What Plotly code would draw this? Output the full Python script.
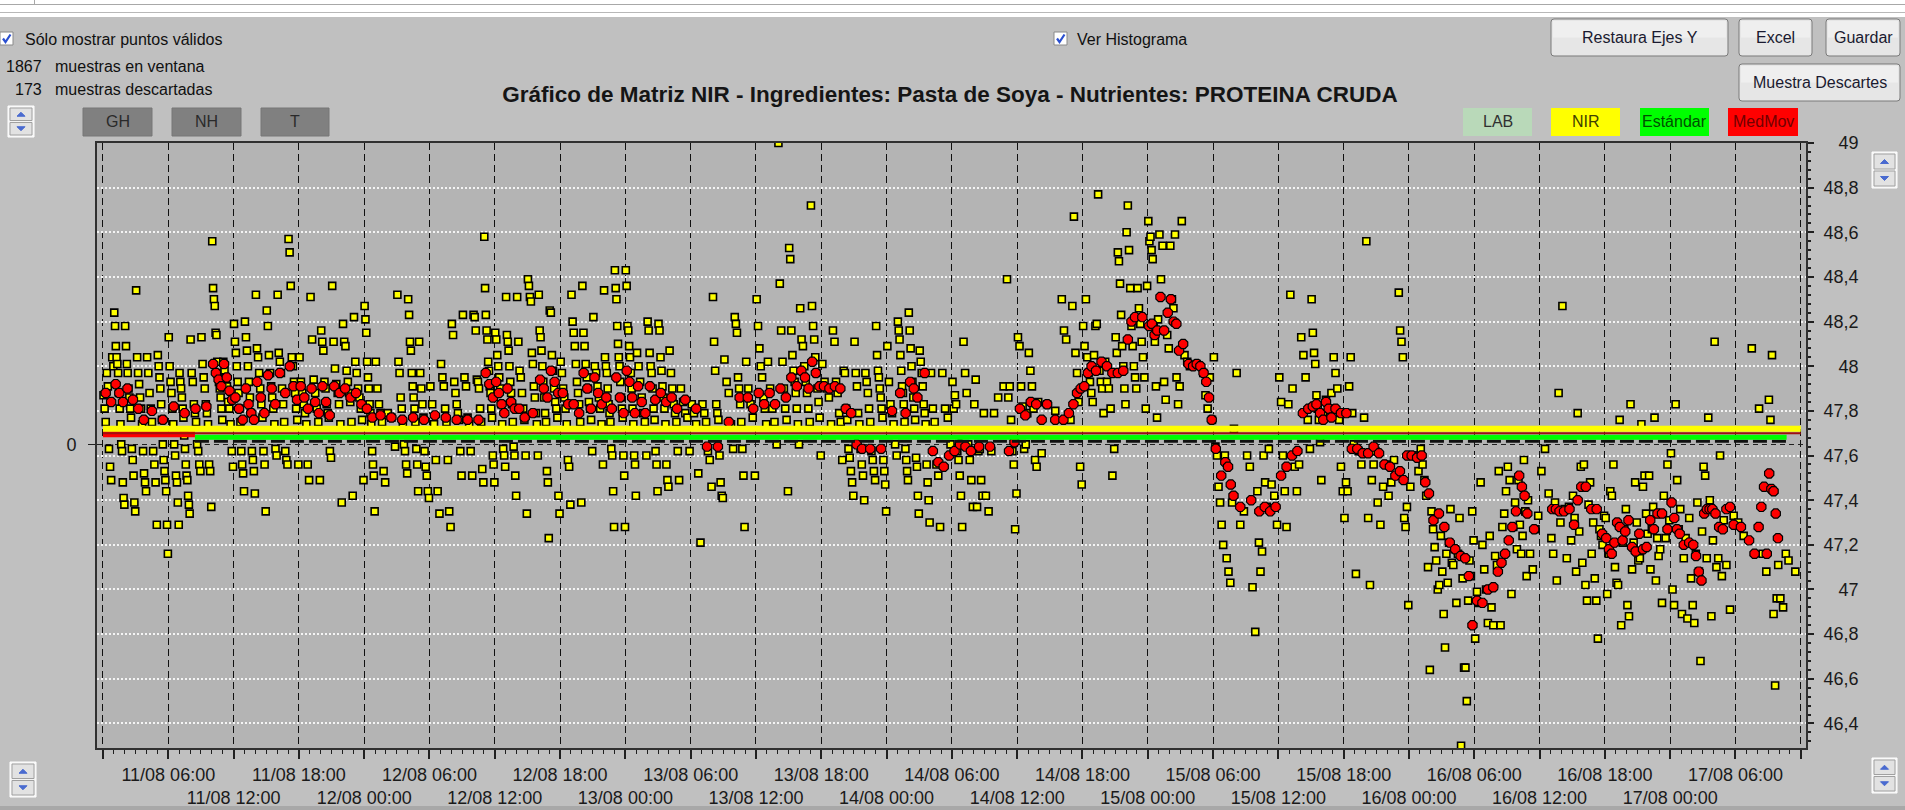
import plotly.graph_objects as go
from datetime import datetime, timedelta

BASE = datetime(2023, 8, 11, 0, 0)

# NIR readings, grouped by hour since 11/08 00:00 (samples spread evenly inside each hour)
nir_by_hour = [
    [47.87,47.81,47.75,47.97,47.91,47.63,47.55,47.49,48.04,48.00],
    [48.24,48.18,48.09,48.04,48.01,47.97,47.88,47.81,47.74,47.65,47.62,47.48,47.41,47.38],
    [48.18,48.09,48.01,47.97,47.90,47.86,47.81,47.77,47.63,47.58,47.51,47.39,47.35],
    [48.34,48.04,47.97,47.92,47.86,47.81,47.74,47.62,47.52,47.48,47.44],
    [48.04,47.97,47.88,47.81,47.75,47.62,47.56,47.48,47.29],
    [48.05,48.00,47.95,47.90,47.83,47.76,47.65,47.58,47.53,47.49,47.44,47.29,47.16],
    [48.13,48.00,47.93,47.88,47.81,47.74,47.65,47.60,47.51,47.48,47.39,47.29],
    [47.97,47.93,47.90,47.86,47.81,47.77,47.69,47.63,47.56,47.51,47.49,47.42,47.38,47.34],
    [48.12,47.97,47.93,47.83,47.79,47.75,47.65,47.62,47.56,47.53],
    [48.13,48.01,47.95,47.90,47.83,47.79,47.74,47.56,47.53,47.37],
    [48.56,48.35,48.30,48.27,48.15,48.14,48.02,47.97,47.93,47.90,47.86,47.81,47.76],
    [48.02,47.98,47.95,47.91,47.84,47.81,47.74,47.62,47.55],
    [48.19,48.11,48.06,48.00,47.93,47.88,47.81,47.75,47.62,47.56,47.52,47.44],
    [48.20,48.13,48.07,48.00,47.93,47.86,47.79,47.62,47.58,47.53,47.43],
    [48.32,48.08,48.04,47.97,47.90,47.83,47.77,47.62,47.56,47.35],
    [48.25,48.18,48.05,47.97,47.91,47.86,47.81,47.74,47.63,47.60],
    [48.32,48.06,48.02,47.97,47.90,47.83,47.75,47.62,47.58,47.56],
    [48.57,48.51,48.36,48.04,48.00,47.93,47.88,47.81,47.76,47.56],
    [48.04,47.93,47.88,47.83,47.79,47.74,47.56,47.49],
    [48.31,48.12,47.94,47.88,47.81,47.75,47.49],
    [48.16,48.11,48.07,47.93,47.90,47.83,47.79,47.77,47.62,47.59],
    [48.36,48.11,47.99,47.92,47.88,47.83,47.74,47.39],
    [48.19,48.11,48.09,47.98,47.93,47.88,47.84,47.75,47.42],
    [48.22,48.02,47.97,47.90,47.86,47.81,47.76,47.49],
    [48.27,48.21,48.15,48.02,47.95,47.90,47.83,47.79,47.74,47.62,47.56,47.51,47.35],
    [48.02,47.90,47.83,47.79,47.75,47.53,47.48],
    [47.79,47.77,47.64],
    [48.32,48.02,47.97,47.86,47.81,47.74,47.65,47.62,47.56,47.52],
    [48.30,48.23,48.11,48.07,47.97,47.91,47.86,47.81,47.75,47.63,47.56,47.44],
    [48.11,47.97,47.90,47.83,47.77,47.62,47.55,47.51,47.44,47.41],
    [47.91,47.83,47.74,47.58,47.44,47.34],
    [48.01,47.95,47.91,47.81,47.75,47.58,47.35,47.28],
    [48.19,48.14,47.93,47.88,47.83,47.79,47.76,47.62,47.51],
    [48.23,47.95,47.91,47.77,47.74,47.62,47.51],
    [48.23,48.22,48.16,47.94,47.93,47.90,47.81,47.75,47.54,47.48],
    [48.58,48.35,48.23,48.16,48.12,48.02,47.98,47.91,47.88,47.81,47.77,47.60,47.56,47.48],
    [48.15,48.12,48.05,48.00,47.95,47.90,47.83,47.74,47.63,47.60,47.55],
    [48.31,48.14,48.11,48.07,48.00,47.93,47.88,47.83,47.75,47.64,47.60,47.51,47.42],
    [48.31,48.11,47.98,47.95,47.88,47.81,47.76,47.60,47.34],
    [48.39,48.36,48.31,48.29,48.06,48.01,47.91,47.86,47.79,47.74,47.60],
    [48.32,48.16,48.13,48.07,48.00,47.93,47.86,47.79,47.75,47.53,47.48,47.23],
    [48.25,48.24,48.05,47.98,47.90,47.84,47.81,47.77,47.42,47.34],
    [48.02,47.97,47.90,47.86,47.81,47.74,47.58,47.55,47.38],
    [48.32,48.20,48.15,48.09,48.01,47.93,47.88,47.83,47.75,47.39],
    [48.36,48.15,48.09,48.01,47.95,47.90,47.84,47.81,47.76,47.62],
    [48.22,48.00,47.97,47.91,47.86,47.81,47.74,47.56],
    [48.34,48.04,48.00,47.97,47.90,47.83,47.79,47.75,47.63,47.60,47.44,47.28],
    [48.43,48.35,48.30,48.18,48.10,48.04,48.00,47.93,47.86,47.81,47.77,47.60,47.51,47.28],
    [48.43,48.36,48.18,48.16,48.09,48.04,47.97,47.90,47.81,47.74,47.60,47.56,47.42],
    [48.06,48.00,47.93,47.86,47.79,47.75,47.60],
    [48.20,48.16,48.06,48.00,47.97,47.90,47.81,47.76,47.62,47.56,47.44],
    [48.19,48.16,48.04,47.98,47.91,47.86,47.81,47.74,47.56,47.49,47.46],
    [48.07,47.97,47.90,47.83,47.79,47.75,47.62,47.49],
    [47.90,47.84,47.79,47.77,47.62],
    [47.83,47.79,47.74,47.52,47.21],
    [47.83,47.79,47.75,47.62,47.58,47.46],
    [48.31,48.11,47.98,47.83,47.79,47.76,47.60,47.48,47.42,47.41],
    [48.03,47.93,47.88,47.74,47.63],
    [48.22,48.19,48.15,47.95,47.90,47.83,47.75,47.63,47.51,47.28],
    [48.02,47.90,47.83,47.77,47.51],
    [48.30,48.18,48.08,48.00,47.95,47.86,47.81,47.74],
    [48.02,47.90,47.81,47.75,47.65],
    [49.00,48.37,48.16,48.02,47.90,47.81,47.76,47.44],
    [48.53,48.48,48.16,48.05,47.98,47.93,47.88,47.81,47.74,47.65],
    [48.26,48.12,48.09,48.00,47.93,47.88,47.81,47.75],
    [48.72,48.27,48.18,48.12,48.04,47.97,47.90,47.84,47.77,47.60],
    [48.01,47.93,47.90,47.86,47.74],
    [48.16,48.11,47.93,47.88,47.79,47.75,47.58],
    [47.98,47.97,47.81,47.76,47.63,47.59,47.53,47.48,47.42],
    [48.11,47.97,47.91,47.79,47.74,47.63,47.56,47.51,47.40],
    [47.97,47.93,47.88,47.81,47.75,47.62,47.58,47.53,47.49],
    [48.18,48.05,47.98,47.95,47.90,47.86,47.81,47.77,47.58,47.53,47.47,47.35],
    [48.09,47.93,47.83,47.79,47.74,47.65,47.60],
    [48.20,48.16,48.12,48.05,47.98,47.91,47.88,47.83,47.75,47.63,47.58,47.53,47.49],
    [48.24,48.16,48.08,48.00,47.93,47.86,47.81,47.76,47.59,47.55,47.42,47.34],
    [48.07,48.02,47.97,47.91,47.83,47.79,47.74,47.56,47.48,47.40,47.30],
    [47.97,47.81,47.75,47.56,47.51,47.28],
    [47.97,47.81,47.77,47.65],
    [47.93,47.81,47.87,47.83,47.62,47.58,47.51,47.42,47.28],
    [48.11,47.97,47.88,47.65,47.58,47.49,47.37],
    [47.83,47.94,47.37,47.62,47.63,47.49,47.42,47.79],
    [47.42,47.35,47.62,47.79],
    [47.86,47.91],
    [48.39,47.86,47.91,47.76,47.62,47.56,47.27,47.43],
    [48.13,48.09,47.91,47.82,47.63,47.65,47.79],
    [48.06,47.98,47.91,47.81,47.58,47.55,47.84],
    [47.61,47.83],
    [47.80],
    [48.30,48.16,48.12,47.78,47.76],
    [48.27,48.67,48.06,47.97,47.84,47.55,47.47],
    [48.18,48.09,48.30,48.04,47.97,47.93,47.88,47.84],
    [48.05,48.18,48.19,48.77,47.98,47.93,47.90,47.79],
    [48.02,47.93,47.90,47.81,47.51,47.63],
    [48.13,48.06,48.51,48.47,48.37,48.23,48.09,48.00,47.90,47.83],
    [48.60,48.72,48.52,48.35,48.18,48.09,48.00,47.95,47.90],
    [48.35,48.26,48.19,48.11,48.04,47.95,47.81,48.36],
    [48.65,48.56,48.58,48.52,48.48,48.18,48.11,47.91,47.77,48.21],
    [48.59,48.39,48.54,47.93,47.85,48.14,48.08],
    [48.54,48.30,48.26,48.59,47.95,47.83,47.91],
    [48.65,48.05,48.02,48.00],
    [48.01],
    [47.97,47.87,47.81,47.95,47.76],
    [48.04,47.64,47.60,47.46,47.39,47.29,47.20],
    [47.60,47.14,47.08,47.03,47.39,47.72],
    [47.97,47.29,47.35],
    [47.60,47.55,47.01,46.81],
    [47.44,47.21,47.08,47.17,47.60,47.48,47.37],
    [47.63,47.47,47.42,47.29],
    [47.95,47.84,47.60,47.44,47.28,47.83],
    [48.32,47.90,47.55,47.44,47.56],
    [48.13,48.05,47.95,47.76,47.63],
    [48.30,48.15,48.06,48.01,47.87,47.81,47.76,47.66,47.49],
    [47.79,47.85,47.81,47.88],
    [48.04,47.97,47.90,47.76,47.55,47.44],
    [47.32,47.48,47.44,47.91,48.04,47.79,47.65],
    [47.07,47.62,47.56,47.77],
    [48.56,47.32,47.02,47.49,47.56,47.62],
    [47.39,47.29,47.46,47.56],
    [47.42,47.48,47.58,47.51],
    [48.33,48.16,48.11,48.04,47.32,47.28,47.37,46.93],
    [47.46,47.60,47.60,47.53],
    [47.63,47.56,47.49,47.42,47.10,46.64],
    [47.35,47.27,47.19,47.13,47.00,47.02,47.24],
    [47.08,46.89,46.74,47.16,47.03,47.21,47.36,47.12],
    [47.11,47.18,46.94,47.16,47.32,46.30,47.05],
    [46.65,46.65,46.50,46.95,47.13,47.06,47.35,47.22],
    [46.78,46.99,46.94,47.48,47.20,47.09],
    [47.00,46.85,47.24,46.92,46.84,47.15],
    [47.11,47.53,46.84,47.28,47.34,47.44],
    [47.55,47.49,46.98,47.28,47.39,47.18],
    [47.49,47.29,47.16,47.24,47.58,47.35,47.06,47.40],
    [47.16,47.09,47.27,47.33],
    [47.53,47.63,47.43],
    [47.23,47.16,47.39,47.04,47.88,47.30],
    [48.27,47.36,47.14,47.37,47.22],
    [47.42,47.32,47.08,47.79,47.26,47.55,47.12],
    [47.56,47.02,46.95,47.38,47.48,47.16,47.30],
    [47.05,46.95,46.78,47.27,47.24,47.20,47.33],
    [47.32,46.98,47.16,47.44,47.42,47.56,47.10],
    [47.03,47.02,47.76,46.84,47.21,47.27,47.36],
    [46.93,46.88,47.83,47.09,47.21,47.48,47.30],
    [47.13,47.14,47.74,47.46,47.51,47.34,47.25],
    [47.51,47.09,47.27,47.37,47.77,47.04,47.23,47.15],
    [47.18,46.94,47.42,47.23,47.56,47.31],
    [47.61,47.00,46.93,47.83,47.49,47.27,47.36],
    [46.89,47.14,47.23,46.87,47.32,47.05],
    [46.93,46.85,47.16,47.39,47.08,46.68,47.26],
    [47.55,47.51,47.14,47.77,47.40,46.88,47.22],
    [48.11,47.10,47.14,47.60,47.06,47.31],
    [47.11,46.91,47.33],
    [47.30,47.24],
    [48.08],
    [47.81,47.16,47.08],
    [47.85,47.76,48.05,46.89,46.57,46.96,47.11],
    [46.96,46.92,47.16,47.13],
    [47.08],
]

# MedMov (moving average) readings, grouped by hour
medmov_by_hour = [
    [47.88,47.84],[47.92,47.88,47.84],[47.90,47.85],[47.81,47.76],[47.80],[47.76],[47.82],[47.79],[47.81],[47.82],
    [48.01,47.97,47.94,47.91],[48.01,47.95,47.89,47.85],[47.86,47.81,47.76],[47.90,47.83,47.79,47.76],[47.93,47.86,47.79],
    [47.96,47.90,47.83],[47.97,47.88],[48.00,47.91,47.85],[47.91,47.86,47.81],[47.90,47.84,47.79],
    [47.91,47.84,47.78],[47.91,47.88],[47.90,47.86],[47.88,47.83],[47.81,47.77],
    [47.78],[47.77],[47.76],[47.77],[47.76],[47.78],[47.77],[47.76],[47.76],[47.76],
    [47.97,47.92,47.86],[47.93,47.88,47.83,47.79],[47.90,47.84,47.81],[47.81,47.77],[47.79],
    [47.94,47.90,47.86],[47.98,47.93,47.88],[47.88,47.83],[47.83,47.79],[47.97,47.90,47.81],
    [47.95,47.88,47.83],[47.86,47.81],[47.95,47.86,47.79],[47.98,47.93,47.86,47.79],[47.91,47.84,47.79],
    [47.91,47.85],[47.88,47.84],[47.86,47.81],[47.85],[47.81],
    [47.64],[47.64],[47.75],[47.86],[47.86,47.81],
    [47.88,47.83],[47.88,47.83],[47.90,47.86],[47.95,47.91],[47.98,47.95,47.90],
    [48.02,47.97,47.91],[47.91,47.90],[47.91,47.90],[47.81,47.79],[47.65,47.63],
    [47.63],[47.63],[47.80],[47.88,47.79],[47.93,47.90,47.86],
    [47.97],[47.62,47.57],[47.55,47.60],[47.62,47.65],[47.64,47.62],
    [47.64],[47.64],[],[47.62,47.66],[47.81,47.78],
    [47.84,47.83],[47.76,47.83],[47.76],[47.76,47.79],[47.83,47.88,47.90],
    [47.91,47.97,48.00],[47.98,48.02],[48.00,47.97],[47.97,47.98],[48.12,48.20,48.22],
    [48.22],[48.18,48.19,48.14,48.16],[48.31,48.16,48.24],[48.30,48.20,48.19,48.07],[48.10,48.01],
    [48.00,48.01,48.00],[47.97,47.93,47.86,47.76],[47.63,47.51],[47.57,47.55,47.47,47.42],[47.37],
    [47.40],[47.35,47.37],[47.35,47.37],[47.51,47.55],[47.60,47.62],
    [47.79,47.81],[47.82,47.83,47.79],[47.76,47.84,47.81,47.77],[47.81,47.79],[47.79,47.63],
    [47.63,47.61],[47.61,47.64],[47.61,47.56],[47.55,47.51],[47.53,47.49,47.60],
    [47.60,47.59],[47.60,47.48,47.43],[47.31,47.34],[47.28,47.21],[47.18,47.15],
    [47.14,47.06,46.84],[46.95,46.94],[47.00,47.01],[47.08,47.12,47.16],[47.22,47.28,47.35],
    [47.51,47.46,47.42,47.34],[47.27],[],[47.36,47.36,47.35],[47.35,47.36],
    [47.29,47.40,47.46],[47.46,47.36],[47.36,47.25],[47.23,47.18,47.16,47.21],[47.30,47.28,47.22,47.26],
    [47.31,47.19,47.17],[47.25,47.18,47.19],[47.31,47.27,47.34],[47.34,47.27],[47.39,47.32,47.27,47.25],
    [47.20,47.21],[47.20,47.15,47.08,47.04],[47.34,47.36,47.36,47.36],[47.34,47.28,47.27],[47.36,47.37,47.29],
    [47.28],[47.22,47.16],[47.28,47.37,47.46,47.16],[47.52,47.45,47.44,47.34,47.23],[],[],
]

# Reference levels (horizontal lines)
NIR_LEVEL = 47.72
STD_LEVEL = 47.682
MEDMOV_LEVEL = 47.70
MEDMOV_START_LEVEL = 47.695
SHADOW_LEVEL = 47.664
ZERO_LEVEL = 47.65
STD_START_H, STD_END_H = 8.45, 154.7
NIR_END_H = 156.0

y_ticks = [46.4, 46.6, 46.8, 47.0, 47.2, 47.4, 47.6, 47.8, 48.0, 48.2, 48.4, 48.6, 48.8, 49.0]
Y_MIN, Y_MAX = 46.29, 49.0
X_START_H, X_END_H = -0.55, 156.48


def hours(h):
    return BASE + timedelta(hours=h)


def expand(by_hour):
    xs, ys = [], []
    for h, vals in enumerate(by_hour):
        n = len(vals)
        for i, v in enumerate(vals):
            xs.append(hours(h + (i + 0.5) / n))
            ys.append(v)
    return xs, ys


nir_x, nir_y = expand(nir_by_hour)
mm_x, mm_y = expand(medmov_by_hour)

CHART_FONT = "Liberation Sans, Arial, sans-serif"
UI_FONT = "Liberation Sans, Arial, sans-serif"

fig = go.Figure()
# empty trace to keep the left axis drawn
fig.add_trace(go.Scatter(x=[hours(0)], y=[None], mode='markers', yaxis='y', showlegend=False, hoverinfo='skip'))

fig.add_trace(go.Scatter(
    x=nir_x, y=nir_y, mode='markers', yaxis='y2', name='NIR', showlegend=False,
    marker=dict(symbol='square', size=7, color='#ffff00', line=dict(color='#000000', width=1.6))))
fig.add_trace(go.Scatter(
    x=mm_x, y=mm_y, mode='markers', yaxis='y2', name='MedMov', showlegend=False,
    marker=dict(symbol='octagon', size=10, color='#ff0000', line=dict(color='#000000', width=1.2))))

# horizontal reference lines
fig.add_trace(go.Scatter(x=[hours(STD_START_H), hours(STD_END_H)], y=[SHADOW_LEVEL, SHADOW_LEVEL], mode='lines',
                         yaxis='y2', showlegend=False, line=dict(color='#101010', width=3, dash='14px,5px')))
fig.add_trace(go.Scatter(x=[hours(STD_START_H), hours(STD_END_H)], y=[STD_LEVEL, STD_LEVEL], mode='lines',
                         yaxis='y2', showlegend=False, line=dict(color='#00ff00', width=5)))
fig.add_trace(go.Scatter(x=[hours(0), hours(STD_START_H)], y=[MEDMOV_START_LEVEL, MEDMOV_START_LEVEL], mode='lines',
                         yaxis='y2', showlegend=False, line=dict(color='#ff0000', width=6)))
fig.add_trace(go.Scatter(x=[hours(0), hours(NIR_END_H)], y=[MEDMOV_LEVEL, MEDMOV_LEVEL], mode='lines',
                         yaxis='y2', showlegend=False, line=dict(color='#a01010', width=2)))
fig.add_trace(go.Scatter(x=[hours(0), hours(NIR_END_H)], y=[NIR_LEVEL, NIR_LEVEL], mode='lines',
                         yaxis='y2', showlegend=False, line=dict(color='#ffff00', width=6)))

# x ticks
tick_h = list(range(0, 157, 6))
tick_vals = [hours(h) for h in tick_h]
tick_text = []
for h in tick_h:
    lab = hours(h).strftime('%d/%m %H:%M')
    if h == 0 or h == 156:
        tick_text.append('')
    elif (h % 24) in (6, 18):
        tick_text.append(lab)
    else:
        tick_text.append('\u00a0<br>' + lab)

y_text = []
for v in y_ticks:
    if abs(v - round(v)) < 1e-9:
        y_text.append('\u2008\u2007' + str(int(round(v))))
    else:
        y_text.append(f"{v:.1f}".replace('.', ','))

W, H = 1905, 810
L, R, T, B = 97, 1806, 143, 748


def PX(px):
    return (px - L) / (R - L)


def PY(py):
    return (B - py) / (B - T)


shapes = []
annotations = []


def rect(x0, y0, x1, y1, fill, line=None, lw=1):
    shapes.append(dict(type='rect', xref='paper', yref='paper', x0=PX(x0), x1=PX(x1), y0=PY(y1), y1=PY(y0),
                       fillcolor=fill, line=dict(color=line if line else fill, width=lw if line else 0), layer='above'))


def pth(points, fill=None, line='#000', lw=1, close=True):
    s = 'M ' + ' L '.join(f"{PX(x):.6f},{PY(y):.6f}" for x, y in points) + (' Z' if close else '')
    shapes.append(dict(type='path', xref='paper', yref='paper', path=s, fillcolor=fill if fill else 'rgba(0,0,0,0)',
                       line=dict(color=line, width=lw), layer='above'))


def rrect(x0, y0, x1, y1, r, fill, line, lw=1):
    def P(x, y):
        return f"{PX(x):.6f},{PY(y):.6f}"
    s = (f"M {P(x0 + r, y0)} L {P(x1 - r, y0)} Q {P(x1, y0)} {P(x1, y0 + r)} L {P(x1, y1 - r)} "
         f"Q {P(x1, y1)} {P(x1 - r, y1)} L {P(x0 + r, y1)} Q {P(x0, y1)} {P(x0, y1 - r)} "
         f"L {P(x0, y0 + r)} Q {P(x0, y0)} {P(x0 + r, y0)} Z")
    shapes.append(dict(type='path', xref='paper', yref='paper', path=s, fillcolor=fill,
                       line=dict(color=line, width=lw), layer='above'))


def text(px, py, s, size=16, color='#000000', xanchor='left', family=UI_FONT):
    annotations.append(dict(xref='paper', yref='paper', x=PX(px), y=PY(py), text=s, showarrow=False,
                            xanchor=xanchor, yanchor='middle', font=dict(family=family, size=size, color=color)))


# window strip at top
rect(0, 0, W, 17, '#ffffff')
rect(0, 4, W, 5, '#a8a8a8')
rect(0, 12, W, 13, '#b8b8b8')
rect(34, 0, 35, 4, '#a8a8a8')
rect(0, 806, W, 810, '#a8a8a8')


def checkbox(x, y):
    rect(x, y, x + 13, y + 13, '#ffffff', '#8a8a8a', 1)
    pth([(x + 3, y + 6.5), (x + 5.5, y + 10), (x + 10.5, y + 2.5)], None, '#2a4fd0', 2.2, close=False)


checkbox(0, 32)
text(23, 39, 'Sólo mostrar puntos válidos', 16, '#101010')
checkbox(1054, 32)
text(1075, 39, 'Ver Histograma', 16, '#101010')
text(44, 66, '1867', 16, '#101010', 'right')
text(53, 66, 'muestras en ventana', 16, '#101010')
text(44, 90, '173', 16, '#101010', 'right')
text(53, 90, 'muestras descartadas', 16, '#101010')

# GH / NH / T
for x0, x1, lab in [(83, 152, 'GH'), (172, 241, 'NH'), (261, 329, 'T')]:
    rect(x0, 108, x1, 136, '#808080', '#767676', 1)
    text((x0 + x1) / 2, 122, lab, 16, '#2a2a2a', 'center')

# buttons
for x0, y0, x1, y1, lab in [(1551, 19, 1728, 56, 'Restaura Ejes Y'), (1739, 19, 1812, 56, 'Excel'),
                            (1826, 19, 1900, 56, 'Guardar'), (1739, 64, 1900, 101, 'Muestra Descartes')]:
    rrect(x0, y0, x1, y1, 3, '#e6e6e6', '#7a7a7a', 1)
    rect(x0 + 2, y0 + 2, x1 - 2, (y0 + y1) / 2, '#efefef')
    text((x0 + x1) / 2, (y0 + y1) / 2, lab, 16, '#1a1a30', 'center')

# legend boxes
for x0, x1, fill, col, lab in [(1463, 1532, '#b9d9b9', '#303030', 'LAB'), (1551, 1620, '#ffff00', '#404000', 'NIR'),
                               (1640, 1709, '#00ff00', '#005000', 'Estándar'), (1728, 1798, '#ff0000', '#700000', 'MedMov')]:
    rect(x0, 108, x1, 136, fill)
    text((x0 + x1) / 2, 122, lab, 16, col, 'center')


def spinner(x0, y0, x1, y1):
    rect(x0, y0, x1, y1, '#f4f4f4', '#ffffff', 1)
    ym = (y0 + y1) / 2
    rect(x0 + 2, y0 + 2, x1 - 2, ym - 1, '#e2e2e2', '#a0a0a0', 1)
    rect(x0 + 2, ym + 1, x1 - 2, y1 - 2, '#e2e2e2', '#a0a0a0', 1)
    cx = (x0 + x1) / 2
    a = (y0 + 2 + ym - 1) / 2
    b = (ym + 1 + y1 - 2) / 2
    pth([(cx - 4, a + 2), (cx + 4, a + 2), (cx, a - 2)], '#4a6bd0', '#4a6bd0', 1)
    pth([(cx - 4, b - 2), (cx + 4, b - 2), (cx, b + 2)], '#4a6bd0', '#4a6bd0', 1)


spinner(8, 106, 34, 137)
spinner(1872, 152, 1897, 188)
spinner(10, 762, 36, 797)
spinner(1872, 758, 1897, 793)

fig.update_layout(
    width=W, height=H,
    margin=dict(l=L, r=W - R, t=T, b=H - B, pad=0, autoexpand=False),
    paper_bgcolor='#c0c0c0', plot_bgcolor='#b4b4b4',
    separators=',.',
    showlegend=False,
    title=dict(text='Gráfico de Matriz NIR - Ingredientes: Pasta de Soya - Nutrientes: PROTEINA CRUDA',
               x=950 / W, y=1 - 94 / H, xanchor='center', yanchor='middle', automargin=False,
               font=dict(family=CHART_FONT, size=22.5, color='#151515', weight='bold')),
    xaxis=dict(type='date', range=[hours(X_START_H), hours(X_END_H)], automargin=False,
               tickmode='array', tickvals=tick_vals, ticktext=tick_text, tickangle=0,
               ticks='outside', ticklen=9, tickwidth=1.5, tickcolor='#202020',
               tickfont=dict(family=CHART_FONT, size=18, color='#1a1a1a'),
               showgrid=True, gridcolor='#101010', gridwidth=1, griddash='7px,4px',
               showline=True, linecolor='#303030', linewidth=2, mirror=True, zeroline=False,
               minor=dict(dtick=3600000, tick0=BASE, ticks='outside', ticklen=4, tickwidth=1,
                          tickcolor='#202020', showgrid=False)),
    yaxis=dict(range=[Y_MIN - ZERO_LEVEL, Y_MAX - ZERO_LEVEL], tickmode='array', tickvals=[0], ticktext=['0'],
               automargin=False,
               ticks='outside', ticklen=7, tickcolor='#202020', ticklabelstandoff=8,
               tickfont=dict(family=CHART_FONT, size=18, color='#1a1a1a'),
               showgrid=True, gridcolor='#202020', gridwidth=1, griddash='5px,4px',
               showline=True, linecolor='#303030', linewidth=2, zeroline=False, fixedrange=True),
    yaxis2=dict(overlaying='y', side='right', range=[Y_MIN, Y_MAX], tickmode='array', automargin=False,
                tickvals=y_ticks, ticktext=y_text,
                ticks='outside', ticklen=6, tickwidth=1.5, tickcolor='#202020', ticklabelstandoff=6,
                tickfont=dict(family=CHART_FONT, size=18, color='#1a1a1a'),
                showgrid=True, gridcolor='#f4f4f4', gridwidth=1.5, griddash='2px,2px',
                showline=True, linecolor='#303030', linewidth=2, zeroline=False,
                minor=dict(dtick=0.04, tick0=46.4, ticks='outside', ticklen=3, tickcolor='#202020',
                           showgrid=False)),
    shapes=shapes,
    annotations=annotations,
)

fig.write_html("out.html", config={'displayModeBar': False},
               post_script="document.body.style.margin='0';document.body.style.overflow='hidden';")
